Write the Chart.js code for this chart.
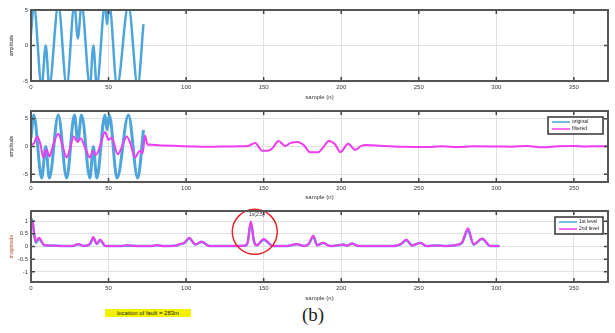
<!DOCTYPE html>
<html>
<head>
<meta charset="utf-8">
<script src="https://cdn.jsdelivr.net/npm/chart.js@4.4.1/dist/chart.umd.min.js"></script>
<style>
  body { margin: 0; background: #fff; width: 615px; height: 333px; position: relative; overflow: hidden; font-family: "Liberation Sans", Arial, sans-serif; }
  .panel { position: absolute; left: 0; width: 615px; }
  #fault { position: absolute; left: 105px; top: 309px; width: 86px; height: 8px; background: #f2f200; font-size: 6px; line-height: 8px; text-align: center; color: #222; }
  #caption { position: absolute; left: 302px; top: 304px; font-family: "Liberation Serif", "DejaVu Serif", serif; font-size: 19px; color: #222; }
</style>
</head>
<body>
<div class="panel" style="top:0;height:104px"><canvas id="c1" width="615" height="104"></canvas></div>
<div class="panel" style="top:104px;height:98px"><canvas id="c2" width="615" height="98"></canvas></div>
<div class="panel" style="top:202px;height:100px"><canvas id="c3" width="615" height="100"></canvas></div>
<div id="fault">location of fault = 283m</div>
<div id="caption">(b)</div>
<script>
// sample axis, shared by the three panels
const sampleTicks = [0, 50, 100, 150, 200, 250, 300, 350];
const sampleMax = 372;

// original signal: turning points (sample index, amplitude)
const sigN = [0, 1.8, 6.9, 9.5, 11.8, 17.6, 23, 28, 30.2, 32.6, 38, 40.2, 42.4, 47.7, 49, 50.5, 55.5, 62.8, 68.8, 72.5];
const sigV = [1.5, 5.7, -5.7, 0, -5.7, 5.7, -5.7, 5.7, 1, 5.7, -5.7, 0, -5.7, 5.7, 3, 5.7, -5.7, 5.7, -5.7, 3];

// filtered output
const filtN = [0, 2, 4, 6, 8, 10, 12, 14, 17.6, 20, 23, 25, 27.5, 30, 32, 35, 38, 40, 42, 45, 47.7, 50, 52, 56,
  59, 61.7, 64, 67, 70, 72, 73.5, 75, 78, 85, 95, 105, 115, 125, 135, 140, 144.5, 149, 153, 156, 159.5, 164, 167, 172,
  176, 180, 185, 188, 192, 196, 199.5, 204.5, 209, 213, 216, 225, 240, 255, 265, 275, 285, 300, 310, 320, 330, 340,
  350, 358, 365, 372];
const filtV = [0.3, 0.6, 1.8, 0.5, -2.0, -0.6, -1.8, 0, 2.3, 0.5, -2.0, -0.5, 1.8, 0.8, 1.5, -0.3, -2.0, -0.8, -1.5, 0.5, 2.6, 1.2, 1.6, -1.4,
  0.2, 1.8, 0.6, -2.0, -0.8, -1.2, 2.0, 0.4, 0.3, 0.2, 0.1, 0.0, -0.05, 0.0, 0.05, 0.1, 0.65, -0.75, -0.75, -0.2, 1.0, 0.1, 0.6, 0.8,
  0.2, -1.05, -1.05, -0.3, 1.0, 0.4, -1.0, 0.5, -0.6, 0.1, 0.25, 0.15, -0.05, -0.1, 0.05, -0.1, 0.05, 0.0, -0.05, 0.1, -0.15, 0.05,
  0.1, 0.0, 0.05, 0.05];

// detail magnitude, two levels
const detN = [0, 1, 3, 5.2, 8.5, 14, 20, 27, 30.5, 34, 38, 40.2, 42.4, 44.5, 48, 58, 62, 65, 70, 78, 81, 85, 93, 96,
  99, 102, 106, 110, 115, 125, 138, 139.8, 141.7, 143.8, 145.6, 150, 156, 165, 171.4, 176, 179, 182, 184.5, 188.4, 192.7, 196,
  201.5, 203.5, 206.9, 211, 225, 234, 236, 238.5, 242, 245.6, 251, 255, 261.6, 268, 273.5, 277.8, 281.7, 285.4, 290.8, 296.1, 302];
const det1 = [1.1, 1.0, 0.15, 0.3, 0.05, 0.03, 0.02, 0.02, 0.09, 0.02, 0.09, 0.33, 0.1, 0.25, 0.02, 0.02, 0.04, 0.03, 0.02, 0.02, 0.05, 0.02, 0.03, 0.09,
  0.14, 0.32, 0.08, 0.18, 0.02, 0.02, 0.03, 0.18, 0.95, 0.18, 0.05, 0.27, 0.02, 0.02, 0.09, 0.02, 0.09, 0.38, 0.05, 0.14, 0.02, 0.03,
  0.07, 0.03, 0.11, 0.02, 0.02, 0.02, 0.04, 0.09, 0.25, 0.04, 0.14, 0.02, 0.04, 0.02, 0.05, 0.14, 0.62, 0.08, 0.3, 0.02, 0.02];
const det2 = [1.05, 0.95, 0.2, 0.35, 0.05, 0.04, 0.02, 0.02, 0.1, 0.02, 0.1, 0.37, 0.1, 0.28, 0.02, 0.02, 0.05, 0.03, 0.02, 0.02, 0.06, 0.02, 0.03, 0.1,
  0.15, 0.35, 0.08, 0.2, 0.02, 0.02, 0.03, 0.2, 1.0, 0.2, 0.05, 0.3, 0.02, 0.02, 0.1, 0.02, 0.1, 0.42, 0.05, 0.15, 0.02, 0.03,
  0.08, 0.03, 0.12, 0.02, 0.02, 0.02, 0.04, 0.1, 0.28, 0.04, 0.15, 0.02, 0.04, 0.02, 0.05, 0.15, 0.72, 0.08, 0.32, 0.02, 0.02];

const ampTicks = [-5, 0, 5];
const detTicks = [-1, -0.5, 0, 0.5, 1];

const blue = '#4ea5dc';
const magenta = '#f03cf0';
const font = 'Liberation Sans';

const pts = (xs, ys) => xs.map((x, i) => ({ x, y: ys[i] }));
const fixTicks = values => scale => { scale.ticks = values.map(v => ({ value: v })); };

// MATLAB-style box with inward tick marks
const frame = {
  id: 'frame',
  afterDraw(chart) {
    const { ctx, chartArea: a, scales: { x, y } } = chart;
    ctx.save();
    ctx.strokeStyle = '#444';
    ctx.lineWidth = 1.5;
    ctx.beginPath();
    x.ticks.forEach(t => {
      const px = x.getPixelForValue(t.value);
      ctx.moveTo(px, a.top); ctx.lineTo(px, a.top + 4);
      ctx.moveTo(px, a.bottom); ctx.lineTo(px, a.bottom - 4);
    });
    y.ticks.forEach(t => {
      const py = y.getPixelForValue(t.value);
      ctx.moveTo(a.left, py); ctx.lineTo(a.left + 4, py);
      ctx.moveTo(a.right, py); ctx.lineTo(a.right - 4, py);
    });
    ctx.stroke();
    ctx.strokeStyle = '#555';
    ctx.lineWidth = 2;
    ctx.strokeRect(a.left, a.top, a.right - a.left, a.bottom - a.top);
    ctx.restore();
  }
};

// boxed legend in the upper right of the plot area
const boxLegend = {
  id: 'boxLegend',
  afterDraw(chart, args, opts) {
    const { ctx, chartArea: a } = chart;
    const w = opts.width, h = 17;
    const left = a.right - 5 - w, top = a.top + 6;
    ctx.save();
    ctx.fillStyle = '#fff';
    ctx.fillRect(left, top, w, h);
    ctx.strokeStyle = '#333';
    ctx.lineWidth = 1.5;
    ctx.strokeRect(left, top, w, h);
    ctx.font = '5px ' + font;
    ctx.textBaseline = 'middle';
    opts.order.forEach((di, i) => {
      const ds = chart.data.datasets[di];
      const yy = top + 5 + i * 7;
      ctx.strokeStyle = ds.borderColor;
      ctx.lineWidth = 1.5;
      ctx.beginPath(); ctx.moveTo(left + 4, yy); ctx.lineTo(left + 22, yy); ctx.stroke();
      ctx.fillStyle = '#222';
      ctx.fillText(ds.label, left + 24, yy);
    });
    ctx.restore();
  }
};

// circle around the strongest detail peak after start-up
const faultMark = {
  id: 'faultMark',
  afterDatasetsDraw(chart) {
    const { ctx, scales: { x, y } } = chart;
    let k = -1;
    detN.forEach((n, i) => { if (n > 100 && (k < 0 || det2[i] > det2[k])) k = i; });
    const px = x.getPixelForValue(detN[k]);
    ctx.save();
    ctx.strokeStyle = '#e3262b';
    ctx.lineWidth = 1.5;
    ctx.beginPath();
    ctx.arc(px + 4, y.getPixelForValue(det2[k] * 0.58), 22.5, 0, Math.PI * 2);
    ctx.stroke();
    ctx.fillStyle = '#333';
    ctx.font = '5px ' + font;
    ctx.textAlign = 'center';
    ctx.textBaseline = 'middle';
    ctx.fillText('1x(2.5)', px + 6, y.getPixelForValue(det2[k]) - 7);
    ctx.restore();
  }
};

function makePanel(id, o) {
  return new Chart(document.getElementById(id), {
    type: 'line',
    data: { datasets: o.datasets },
    options: {
      responsive: false,
      animation: false,
      devicePixelRatio: 1,
      layout: { padding: { top: o.padTop, right: 7, left: 0, bottom: 0 } },
      elements: { point: { radius: 0 }, line: { cubicInterpolationMode: 'monotone' } },
      plugins: {
        legend: { display: false },
        tooltip: { enabled: false },
        boxLegend: o.legend || false
      },
      scales: {
        x: {
          type: 'linear', min: 0, max: sampleMax,
          afterBuildTicks: fixTicks(sampleTicks),
          afterFit: s => { s.height = o.xHeight; },
          grid: { color: '#e0e0e0', drawTicks: false },
          border: { display: false },
          ticks: { font: { family: font, size: 6 }, color: '#3a3a3a', padding: 3, maxRotation: 0, autoSkip: false, callback: v => String(v) },
          title: { display: true, text: 'sample (n)', font: { family: font, size: 6 }, color: '#333', padding: { top: 0, bottom: o.titlePad } }
        },
        y: {
          type: 'linear', min: o.yMin, max: o.yMax,
          afterBuildTicks: fixTicks(o.yTicks),
          afterFit: s => { s.width = 31; },
          grid: { color: '#e0e0e0', drawTicks: false },
          border: { display: false },
          ticks: { font: { family: font, size: 6 }, color: '#3a3a3a', padding: 3, callback: v => String(v) },
          title: { display: true, text: o.yTitle, font: { family: font, size: 5 }, color: o.yColor || '#333', padding: { top: 9, bottom: 0 } }
        }
      }
    },
    plugins: [frame, boxLegend].concat(o.extra || [])
  });
}

makePanel('c1', {
  padTop: 10, xHeight: 23, titlePad: 3,
  yMin: -5, yMax: 5, yTicks: ampTicks, yTitle: 'amplitude',
  datasets: [
    { label: 'original', data: pts(sigN, sigV), borderColor: blue, borderWidth: 2.5 }
  ]
});

makePanel('c2', {
  padTop: 7, xHeight: 20, titlePad: 1,
  yMin: -6.4, yMax: 6.4, yTicks: ampTicks, yTitle: 'amplitude',
  legend: { width: 55, order: [1, 0] },
  datasets: [
    { label: 'filtered', data: pts(filtN, filtV), borderColor: magenta, borderWidth: 2 },
    { label: 'original', data: pts(sigN, sigV), borderColor: blue, borderWidth: 3 }
  ]
});

makePanel('c3', {
  padTop: 9, xHeight: 20, titlePad: 0,
  yMin: -1.4, yMax: 1.4, yTicks: detTicks, yTitle: 'magnitude', yColor: '#b5533c',
  legend: { width: 48, order: [1, 0] },
  extra: [faultMark],
  datasets: [
    { label: '2nd level', data: pts(detN, det2), borderColor: magenta, borderWidth: 2 },
    { label: '1st level', data: pts(detN, det1), borderColor: blue, borderWidth: 2.5 }
  ]
});
</script>
</body>
</html>
